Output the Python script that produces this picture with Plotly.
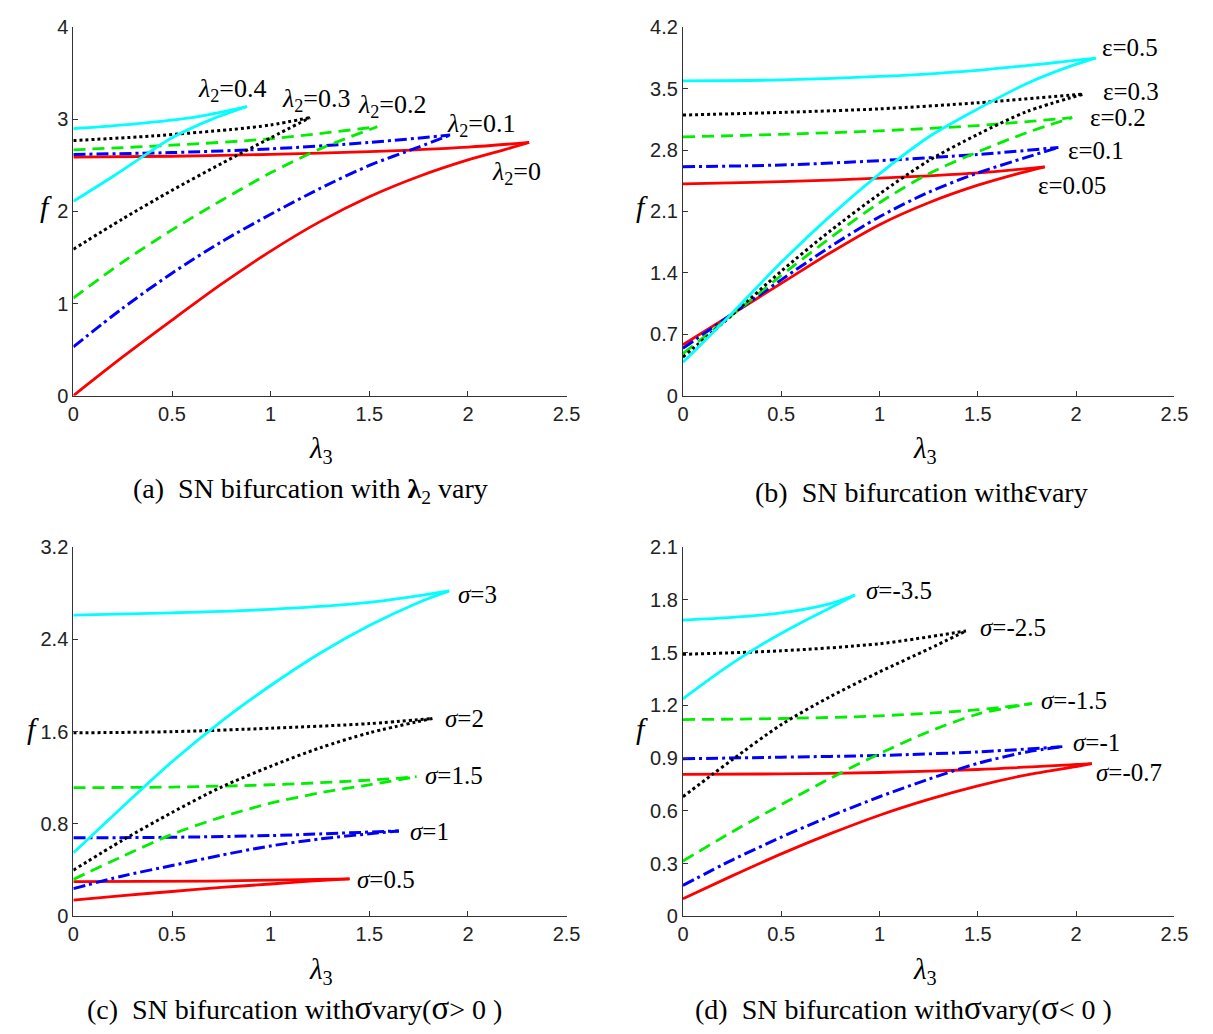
import plotly.graph_objects as go

# ---------------- Panel (a): lambda2 varies ----------------
a_labels = ["λ2=0", "λ2=0.1", "λ2=0.2", "λ2=0.3", "λ2=0.4"]
a0_low_x = [0, 0.25, 0.5, 0.75, 1.0, 1.25, 1.5, 1.75, 2.0, 2.2, 2.31]
a0_low_f = [0, 0.42, 0.82, 1.21, 1.57, 1.89, 2.16, 2.38, 2.56, 2.68, 2.75]
a0_up_x = [0, 0.5, 1.0, 1.5, 2.0, 2.31]
a0_up_f = [2.59, 2.60, 2.62, 2.65, 2.70, 2.75]
a1_low_x = [0, 0.25, 0.5, 0.75, 1.0, 1.25, 1.5, 1.75, 1.91]
a1_low_f = [0.53, 0.95, 1.33, 1.67, 1.97, 2.25, 2.5, 2.7, 2.83]
a1_up_x = [0, 0.5, 1.0, 1.5, 1.91]
a1_up_f = [2.62, 2.64, 2.68, 2.75, 2.83]
a2_low_x = [0, 0.25, 0.5, 0.75, 1.0, 1.25, 1.54]
a2_low_f = [1.06, 1.45, 1.8, 2.12, 2.42, 2.68, 2.92]
a2_up_x = [0, 0.5, 1.0, 1.54]
a2_up_f = [2.67, 2.72, 2.79, 2.92]
a3_low_x = [0, 0.25, 0.5, 0.75, 1.0, 1.2]
a3_low_f = [1.59, 1.92, 2.23, 2.52, 2.8, 3.02]
a3_up_x = [0, 0.4, 0.8, 1.0, 1.2]
a3_up_f = [2.77, 2.82, 2.89, 2.94, 3.02]
a4_low_x = [0, 0.2, 0.34, 0.5, 0.7, 0.88]
a4_low_f = [2.11, 2.38, 2.58, 2.8, 3.0, 3.14]
a4_up_x = [0, 0.3, 0.6, 0.88]
a4_up_f = [2.9, 2.95, 3.02, 3.14]

# ---------------- Panel (b): epsilon varies ----------------
b_labels = ["ε=0.05", "ε=0.1", "ε=0.2", "ε=0.3", "ε=0.5"]
b0_low_x = [0, 0.25, 0.5, 0.75, 1.0, 1.25, 1.5, 1.7, 1.84]
b0_low_f = [0.58, 0.93, 1.28, 1.63, 1.95, 2.2, 2.4, 2.53, 2.61]
b0_up_x = [0, 0.5, 1.0, 1.5, 1.84]
b0_up_f = [2.415, 2.44, 2.48, 2.54, 2.61]
b1_low_x = [0, 0.25, 0.5, 0.75, 1.0, 1.25, 1.5, 1.75, 1.91]
b1_low_f = [0.54, 0.93, 1.32, 1.7, 2.04, 2.32, 2.54, 2.72, 2.83]
b1_up_x = [0, 0.5, 1.0, 1.5, 1.91]
b1_up_f = [2.61, 2.63, 2.68, 2.75, 2.83]
b2_low_x = [0, 0.25, 0.5, 0.75, 1.0, 1.25, 1.5, 1.75, 1.98]
b2_low_f = [0.48, 0.92, 1.37, 1.8, 2.2, 2.53, 2.78, 3.0, 3.17]
b2_up_x = [0, 0.5, 1.0, 1.5, 1.98]
b2_up_f = [2.95, 2.98, 3.02, 3.08, 3.17]
b3_low_x = [0, 0.25, 0.5, 0.75, 1.0, 1.25, 1.5, 1.75, 2.04]
b3_low_f = [0.44, 0.92, 1.42, 1.88, 2.3, 2.68, 2.98, 3.24, 3.44]
b3_up_x = [0, 0.5, 1.0, 1.5, 2.04]
b3_up_f = [3.2, 3.23, 3.27, 3.34, 3.44]
b4_low_x = [0, 0.25, 0.5, 0.75, 1.0, 1.25, 1.5, 1.75, 2.0, 2.1]
b4_low_f = [0.38, 0.94, 1.52, 2.05, 2.53, 2.95, 3.27, 3.56, 3.78, 3.85]
b4_up_x = [0, 0.5, 1.0, 1.5, 2.1]
b4_up_f = [3.59, 3.6, 3.64, 3.71, 3.85]

# ---------------- Panel (c): sigma > 0 ----------------
c_labels = ["σ=0.5", "σ=1", "σ=1.5", "σ=2", "σ=3"]
c0_low_x = [0, 0.25, 0.5, 0.75, 1.0, 1.2, 1.4]
c0_low_f = [0.14, 0.18, 0.215, 0.25, 0.28, 0.305, 0.325]
c0_up_x = [0, 0.7, 1.4]
c0_up_f = [0.30, 0.305, 0.325]
c1_low_x = [0, 0.25, 0.5, 0.75, 1.0, 1.25, 1.5, 1.65]
c1_low_f = [0.24, 0.35, 0.44, 0.53, 0.61, 0.67, 0.715, 0.74]
c1_up_x = [0, 0.5, 1.0, 1.65]
c1_up_f = [0.68, 0.685, 0.70, 0.74]
c2_low_x = [0, 0.25, 0.5, 0.75, 1.0, 1.25, 1.5, 1.74]
c2_low_f = [0.32, 0.52, 0.71, 0.86, 0.98, 1.07, 1.14, 1.21]
c2_up_x = [0, 0.5, 1.0, 1.5, 1.74]
c2_up_f = [1.115, 1.12, 1.14, 1.18, 1.21]
c3_low_x = [0, 0.25, 0.5, 0.75, 1.0, 1.25, 1.5, 1.82]
c3_low_f = [0.40, 0.66, 0.90, 1.12, 1.30, 1.46, 1.59, 1.715]
c3_up_x = [0, 0.5, 1.0, 1.5, 1.82]
c3_up_f = [1.59, 1.60, 1.63, 1.67, 1.715]
c4_low_x = [0, 0.25, 0.5, 0.75, 1.0, 1.25, 1.5, 1.75, 1.905]
c4_low_f = [0.55, 0.95, 1.34, 1.69, 2.0, 2.28, 2.52, 2.72, 2.82]
c4_up_x = [0, 0.5, 1.0, 1.5, 1.905]
c4_up_f = [2.61, 2.63, 2.66, 2.72, 2.82]

# ---------------- Panel (d): sigma < 0 ----------------
d_labels = ["σ=-0.7", "σ=-1", "σ=-1.5", "σ=-2.5", "σ=-3.5"]
d0_low_x = [0, 0.25, 0.5, 0.75, 1.0, 1.25, 1.5, 1.75, 2.0, 2.08]
d0_low_f = [0.10, 0.23, 0.355, 0.47, 0.575, 0.665, 0.742, 0.805, 0.852, 0.868]
d0_up_x = [0, 0.5, 1.0, 1.5, 2.08]
d0_up_f = [0.807, 0.81, 0.818, 0.835, 0.868]
d1_low_x = [0, 0.25, 0.5, 0.75, 1.0, 1.25, 1.5, 1.75, 1.93]
d1_low_f = [0.176, 0.32, 0.45, 0.57, 0.68, 0.78, 0.87, 0.935, 0.965]
d1_up_x = [0, 0.5, 1.0, 1.5, 1.93]
d1_up_f = [0.896, 0.905, 0.915, 0.935, 0.965]
d2_low_x = [0, 0.25, 0.5, 0.75, 1.0, 1.25, 1.5, 1.775]
d2_low_f = [0.315, 0.48, 0.635, 0.785, 0.925, 1.05, 1.15, 1.21]
d2_up_x = [0, 0.5, 1.0, 1.5, 1.775]
d2_up_f = [1.119, 1.125, 1.14, 1.175, 1.21]
d3_low_x = [0, 0.15, 0.25, 0.5, 0.75, 1.0, 1.25, 1.44]
d3_low_f = [0.68, 0.807, 0.89, 1.09, 1.25, 1.39, 1.52, 1.623]
d3_up_x = [0, 0.5, 1.0, 1.44]
d3_up_f = [1.49, 1.51, 1.55, 1.623]
d4_low_x = [0, 0.2, 0.4, 0.6, 0.75, 0.875]
d4_low_f = [1.237, 1.4, 1.545, 1.67, 1.755, 1.827]
d4_up_x = [0, 0.25, 0.5, 0.75, 0.875]
d4_up_f = [1.685, 1.70, 1.725, 1.778, 1.827]

# tick labels
x_ticks = [0, 0.5, 1, 1.5, 2, 2.5]
x_ticktext = ["0", "0.5", "1", "1.5", "2", "2.5"]
a_yticks = [0, 1, 2, 3, 4]
b_yticks = [0, 0.7, 1.4, 2.1, 2.8, 3.5, 4.2]
c_yticks = [0, 0.8, 1.6, 2.4, 3.2]
d_yticks = [0, 0.3, 0.6, 0.9, 1.2, 1.5, 1.8, 2.1]

# ---------------- styles ----------------
styles = [
    dict(color="#ff0000", dash="solid", width=2.8),
    dict(color="#0000ff", dash="12px,4px,3px,4px", width=3.0),
    dict(color="#00ee00", dash="12px,7px", width=2.8),
    dict(color="#000000", dash="3px,3px", width=3.0),
    dict(color="#00ffff", dash="solid", width=2.8),
]

W, H = 1213, 1034
def px(x):
    return x / W
def py(y):
    return 1 - y / H

fig = go.Figure()

panels = [
    ("x", "y", [(a0_low_x, a0_low_f, a0_up_x, a0_up_f), (a1_low_x, a1_low_f, a1_up_x, a1_up_f),
                (a2_low_x, a2_low_f, a2_up_x, a2_up_f), (a3_low_x, a3_low_f, a3_up_x, a3_up_f),
                (a4_low_x, a4_low_f, a4_up_x, a4_up_f)]),
    ("x2", "y2", [(b0_low_x, b0_low_f, b0_up_x, b0_up_f), (b1_low_x, b1_low_f, b1_up_x, b1_up_f),
                  (b2_low_x, b2_low_f, b2_up_x, b2_up_f), (b3_low_x, b3_low_f, b3_up_x, b3_up_f),
                  (b4_low_x, b4_low_f, b4_up_x, b4_up_f)]),
    ("x3", "y3", [(c0_low_x, c0_low_f, c0_up_x, c0_up_f), (c1_low_x, c1_low_f, c1_up_x, c1_up_f),
                  (c2_low_x, c2_low_f, c2_up_x, c2_up_f), (c3_low_x, c3_low_f, c3_up_x, c3_up_f),
                  (c4_low_x, c4_low_f, c4_up_x, c4_up_f)]),
    ("x4", "y4", [(d0_low_x, d0_low_f, d0_up_x, d0_up_f), (d1_low_x, d1_low_f, d1_up_x, d1_up_f),
                  (d2_low_x, d2_low_f, d2_up_x, d2_up_f), (d3_low_x, d3_low_f, d3_up_x, d3_up_f),
                  (d4_low_x, d4_low_f, d4_up_x, d4_up_f)]),
]

for xa, ya, curves in panels:
    for i, (lx, lf, ux, uf) in enumerate(curves):
        st = styles[i]
        for xs, fs in ((lx, lf), (ux, uf)):
            fig.add_trace(go.Scatter(
                x=xs, y=fs, xaxis=xa, yaxis=ya, mode="lines",
                line=dict(color=st["color"], dash=st["dash"], width=st["width"],
                          shape="spline", smoothing=0.8),
                showlegend=False, hoverinfo="skip"))

# ---------------- axes ----------------
tickfont = dict(family="Arial, Liberation Sans", size=20, color="#222222")
common_x = dict(range=[0, 2.5], tickvals=x_ticks, ticktext=x_ticktext, ticks="inside", ticklen=5,
                tickcolor="#333333", showline=True, linecolor="#333333", linewidth=1.2,
                showgrid=False, zeroline=False, tickfont=tickfont, mirror=False)
def common_y(rng, vals):
    return dict(range=rng, tickvals=vals, ticktext=[("%g" % v) for v in vals], ticks="inside",
                ticklen=5, tickcolor="#333333", showline=True, linecolor="#333333", linewidth=1.2,
                showgrid=False, zeroline=False, tickfont=tickfont, mirror=False)

xL = [px(68.5), px(570)]
xR = [px(688.3), px(1188)]
yT = [py(393), py(16.7)]
yB = [py(925), py(547.7)]

fig.update_layout(
    width=W, height=H, autosize=False,
    margin=dict(l=0, r=0, t=0, b=0),
    paper_bgcolor="white", plot_bgcolor="white",
    xaxis=dict(domain=xL, anchor="y", **common_x),
    yaxis=dict(domain=yT, anchor="x", **common_y([0, 4], a_yticks)),
    xaxis2=dict(domain=xR, anchor="y2", **common_x),
    yaxis2=dict(domain=yT, anchor="x2", **common_y([0, 4.2], b_yticks)),
    xaxis3=dict(domain=xL, anchor="y3", **common_x),
    yaxis3=dict(domain=yB, anchor="x3", **common_y([0, 3.2], c_yticks)),
    xaxis4=dict(domain=xR, anchor="y4", **common_x),
    yaxis4=dict(domain=yB, anchor="x4", **common_y([0, 2.1], d_yticks)),
)

serif = "Liberation Serif, Times New Roman, serif"
ann = []
def add_text(x, y, text, size=22, xanchor="left"):
    ann.append(dict(x=px(x), y=py(y), xref="paper", yref="paper", text=text, showarrow=False,
                    xanchor=xanchor, yanchor="middle",
                    font=dict(family=serif, size=size, color="black")))

# curve labels panel (a)
a_label_pos = [(492, 166), (446, 116), (356, 97), (279, 91), (193, 81)]
for lab, (x, y) in zip(a_labels, a_label_pos):
    add_text(x, y, "<i>λ</i><sub>2</sub>=" + lab.split("=")[1], size=26)

# panel (b)
b_label_pos = [(1047, 178), (1078, 143), (1100, 109), (1113, 82), (1112, 37)]
for lab, (x, y) in zip(b_labels, b_label_pos):
    add_text(x, y, lab, size=25)

# panel (c)
c_label_pos = [(355, 887), (409, 838), (424, 781), (444, 723), (458, 596)]
for lab, (x, y) in zip(c_labels, c_label_pos):
    add_text(x, y, "<i>σ</i>=" + lab.split("=")[1], size=25)

# panel (d)
d_label_pos = [(1106, 778), (1083, 747), (1050, 704), (988, 630), (872, 592)]
for lab, (x, y) in zip(d_labels, d_label_pos):
    add_text(x, y, "<i>σ</i>=" + lab.split("=", 1)[1], size=25)

# axis titles
for (fx, fy) in [(41, 200), (647, 200), (27, 733), (647, 733)]:
    add_text(fx, fy, "<i>f</i>", size=30, xanchor="center")
for (lx, ly) in [(320, 449), (934, 449), (320, 981), (934, 981)]:
    add_text(lx, ly, "<i>λ</i><sub>3</sub>", size=29, xanchor="center")

# captions
big = "<span style='font-size:33px'>%s</span>"
add_text(310, 490, "(a)  SN bifurcation with <b>λ</b><sub>2</sub> vary", size=28, xanchor="center")
add_text(931, 490, "(b)  SN bifurcation with" + big % "ε" + "vary", size=28, xanchor="center")
add_text(293, 1019, "(c)  SN bifurcation with" + big % "σ" + "vary(" + big % "σ" + "> 0 )", size=28, xanchor="center")
add_text(913, 1019, "(d)  SN bifurcation with" + big % "σ" + "vary(" + big % "σ" + "< 0 )", size=28, xanchor="center")

fig.update_layout(annotations=ann)
fig.write_html("out.html")
